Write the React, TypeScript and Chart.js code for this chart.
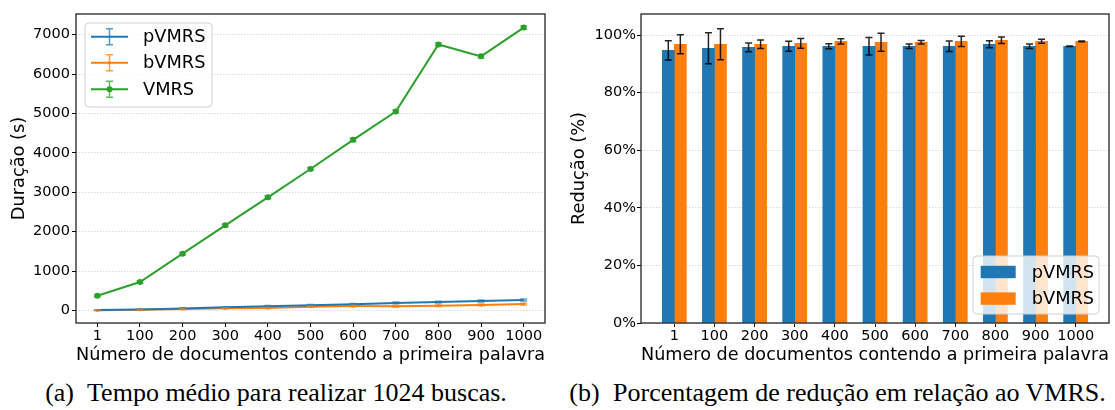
import React, { useEffect, useRef } from "react";
import { Chart, registerables } from "chart.js";

Chart.register(...registerables);

// ---------- data ----------
const categories = ["1", "100", "200", "300", "400", "500", "600", "700", "800", "900", "1000"];

const pvmrsDuration = [8, 25, 50, 78, 105, 130, 158, 190, 210, 240, 265];
const bvmrsDuration = [5, 15, 35, 55, 60, 95, 110, 105, 120, 140, 160];
const vmrsDuration = [370, 720, 1440, 2160, 2870, 3590, 4330, 5050, 6750, 6450, 7180];
const pvmrsDurationErr = [10, 12, 15, 15, 18, 20, 20, 22, 22, 25, 25];
const bvmrsDurationErr = [8, 10, 12, 12, 15, 15, 18, 18, 20, 20, 22];
const vmrsDurationErr = [25, 30, 30, 35, 35, 35, 40, 40, 40, 40, 40];
const durationTicks = [0, 1000, 2000, 3000, 4000, 5000, 6000, 7000];

const pvmrsReduction = [94.7, 95.4, 95.7, 96.1, 96.1, 96.1, 96.1, 96.1, 96.8, 96.1, 96.1];
const bvmrsReduction = [96.8, 96.8, 96.8, 97.1, 97.8, 97.5, 97.5, 97.8, 98.2, 97.8, 97.8];
const pvmrsReductionErr = [3.35, 5.4, 1.5, 1.7, 0.9, 3.0, 0.8, 1.85, 1.2, 0.8, 0.1];
const bvmrsReductionErr = [3.3, 5.4, 1.5, 1.7, 0.9, 3.1, 0.6, 1.8, 1.15, 0.7, 0.1];
const reductionTicks = [0, 20, 40, 60, 80, 100];

const seriesNames = ["pVMRS", "bVMRS", "VMRS"];

// ---------- style ----------
const FONT = "'DejaVu Sans', sans-serif";
const BLUE = "#1f77b4";
const ORANGE = "#ff7f0e";
const GREEN = "#2ca02c";
const TICK_SIZE = 14.5;
const LABEL_SIZE = 17.8;

const PLOT_TOP = 14;
const PLOT_BOTTOM = 323;
const CANVAS_H = 370;

function errorBarPlugin(errs: (number[] | null)[], colors: string[], capHalf: number, lw: number) {
  return {
    id: "errbars",
    afterDatasetsDraw(chart: any) {
      const ctx = chart.ctx;
      const ys = chart.scales.y;
      chart.data.datasets.forEach((ds: any, di: number) => {
        const e = errs[di];
        if (!e) return;
        const meta = chart.getDatasetMeta(di);
        ctx.save();
        ctx.strokeStyle = colors[di];
        ctx.lineWidth = lw;
        meta.data.forEach((el: any, i: number) => {
          const raw = ds.data[i];
          const val = typeof raw === "number" ? raw : raw.y;
          const x = el.x;
          const y1 = ys.getPixelForValue(val + e[i]);
          const y2 = ys.getPixelForValue(val - e[i]);
          ctx.beginPath();
          ctx.moveTo(x, y1);
          ctx.lineTo(x, y2);
          ctx.moveTo(x - capHalf, y1);
          ctx.lineTo(x + capHalf, y1);
          ctx.moveTo(x - capHalf, y2);
          ctx.lineTo(x + capHalf, y2);
          ctx.stroke();
        });
        ctx.restore();
      });
    },
  };
}

function roundBox(ctx: any, x: number, y: number, w: number, h: number, r: number) {
  ctx.beginPath();
  if (ctx.roundRect) ctx.roundRect(x, y, w, h, r);
  else ctx.rect(x, y, w, h);
}

const framePlugin = {
  id: "frame",
  afterDraw(chart: any) {
    const { ctx, chartArea: ca } = chart;
    ctx.save();
    ctx.strokeStyle = "#222";
    ctx.lineWidth = 1.3;
    ctx.strokeRect(ca.left, ca.top, ca.right - ca.left, ca.bottom - ca.top);
    ctx.restore();
  },
};

const lineLegendPlugin = {
  id: "lineLegend",
  afterDraw(chart: any) {
    const { ctx, chartArea: ca } = chart;
    const bx = ca.left + 9;
    const by = ca.top + 9;
    const bw = 127;
    const bh = 84;
    ctx.save();
    roundBox(ctx, bx, by, bw, bh, 4);
    ctx.fillStyle = "rgba(255,255,255,0.8)";
    ctx.fill();
    ctx.strokeStyle = "#d0d0d0";
    ctx.lineWidth = 1;
    ctx.stroke();
    const colors = [BLUE, ORANGE, GREEN];
    const rows = [13.7, 39.8, 66.3];
    rows.forEach((dy, i) => {
      const y = by + dy;
      ctx.strokeStyle = colors[i];
      ctx.lineWidth = 2;
      ctx.beginPath();
      ctx.moveTo(bx + 6, y);
      ctx.lineTo(bx + 43, y);
      ctx.stroke();
      ctx.globalAlpha = 0.75;
      ctx.lineWidth = 1.5;
      ctx.beginPath();
      ctx.moveTo(bx + 24.5, y - 8);
      ctx.lineTo(bx + 24.5, y + 8);
      ctx.moveTo(bx + 21, y - 8);
      ctx.lineTo(bx + 28, y - 8);
      ctx.moveTo(bx + 21, y + 8);
      ctx.lineTo(bx + 28, y + 8);
      ctx.stroke();
      ctx.globalAlpha = 1;
      if (i > 0) {
        ctx.fillStyle = colors[i];
        ctx.beginPath();
        ctx.arc(bx + 24.5, y, i === 2 ? 3 : 1.5, 0, Math.PI * 2);
        ctx.fill();
      }
      ctx.fillStyle = "#000";
      ctx.font = `${LABEL_SIZE}px ${FONT}`;
      ctx.textBaseline = "middle";
      ctx.textAlign = "left";
      ctx.fillText(seriesNames[i], bx + 58, y + 1);
    });
    ctx.restore();
  },
};

const barLegendPlugin = {
  id: "barLegend",
  afterDraw(chart: any) {
    const { ctx, chartArea: ca } = chart;
    const bw = 126;
    const bh = 58;
    const bx = ca.right - 10 - bw;
    const by = ca.bottom - 9 - bh;
    ctx.save();
    roundBox(ctx, bx, by, bw, bh, 4);
    ctx.fillStyle = "rgba(255,255,255,0.8)";
    ctx.fill();
    ctx.strokeStyle = "#d0d0d0";
    ctx.lineWidth = 1;
    ctx.stroke();
    const colors = [BLUE, ORANGE];
    const rows = [16, 42.6];
    rows.forEach((dy, i) => {
      const y = by + dy;
      ctx.fillStyle = colors[i];
      ctx.fillRect(bx + 7.7, y - 6.2, 35, 12.4);
      ctx.fillStyle = "#000";
      ctx.font = `${LABEL_SIZE}px ${FONT}`;
      ctx.textBaseline = "middle";
      ctx.textAlign = "left";
      ctx.fillText(seriesNames[i], bx + 58.7, y + 1);
    });
    ctx.restore();
  },
};

function axisTitle(text: string, horizontal: boolean) {
  return {
    display: true,
    text,
    color: "#000",
    font: { family: FONT, size: LABEL_SIZE },
    padding: horizontal ? { top: 0, bottom: 4 } : { top: 9, bottom: 0 },
  };
}

const tickFont = { family: FONT, size: TICK_SIZE };

function LineChart() {
  const ref = useRef<HTMLCanvasElement | null>(null);
  useEffect(() => {
    if (!ref.current) return;
    const W = 560;
    const chart = new Chart(ref.current, {
      type: "line",
      data: {
        labels: categories,
        datasets: [
          { label: seriesNames[0], data: pvmrsDuration, borderColor: BLUE, backgroundColor: BLUE, borderWidth: 2, pointRadius: 0, tension: 0 },
          { label: seriesNames[1], data: bvmrsDuration, borderColor: ORANGE, backgroundColor: ORANGE, borderWidth: 2, pointRadius: 1.5, pointBorderWidth: 0, tension: 0 },
          { label: seriesNames[2], data: vmrsDuration, borderColor: GREEN, backgroundColor: GREEN, borderWidth: 2, pointRadius: 3, pointBorderWidth: 0, tension: 0 },
        ],
      },
      options: {
        responsive: false,
        animation: false,
        devicePixelRatio: 1,
        layout: { padding: { left: 0, top: PLOT_TOP, right: W - 545, bottom: 0 } },
        plugins: { legend: { display: false }, tooltip: { enabled: false } },
        scales: {
          x: {
            type: "category",
            offset: true,
            grid: { display: true, drawOnChartArea: false, drawTicks: true, tickLength: 4, tickColor: "#000", tickWidth: 1, offset: false },
            border: { display: false },
            ticks: { color: "#000", font: tickFont, padding: 1, maxRotation: 0, autoSkip: false },
            title: axisTitle("Número de documentos contendo a primeira palavra", true),
            afterFit: (s: any) => { s.height = CANVAS_H - PLOT_BOTTOM; },
          },
          y: {
            type: "linear",
            min: -320,
            max: 7525,
            afterBuildTicks: (s: any) => { s.ticks = durationTicks.map((v) => ({ value: v })); },
            ticks: { color: "#000", font: tickFont, padding: 2, callback: (v: any) => String(v) },
            grid: { color: "#dadada", lineWidth: 1, drawTicks: true, tickLength: 4, tickColor: "#000", tickWidth: 1, tickBorderDash: [] },
            border: { display: false, dash: [1.5, 1.5] },
            title: axisTitle("Duração (s)", false),
            afterFit: (s: any) => { s.width = 76; },
          },
        },
      } as any,
      plugins: [
        errorBarPlugin([pvmrsDurationErr, bvmrsDurationErr, vmrsDurationErr], ["rgba(31,119,180,0.7)", "rgba(255,127,14,0.7)", "rgba(44,160,44,0.7)"], 3.5, 1.5),
        framePlugin,
        lineLegendPlugin,
      ],
    });
    return () => chart.destroy();
  }, []);
  return <canvas ref={ref} width={560} height={CANVAS_H} style={{ position: "absolute", left: 0, top: 0, width: 560, height: CANVAS_H }} />;
}

function BarChart() {
  const ref = useRef<HTMLCanvasElement | null>(null);
  useEffect(() => {
    if (!ref.current) return;
    const W = 555;
    const left = 81;
    const right = 549;
    const xMin = -0.83;
    const xMax = 10.83;
    const barPx = 0.3 * ((right - left) / (xMax - xMin));
    const chart = new Chart(ref.current, {
      type: "bar",
      data: {
        datasets: [
          { label: seriesNames[0], data: pvmrsReduction.map((v, i) => ({ x: i - 0.15, y: v })), backgroundColor: BLUE, barThickness: barPx, grouped: false, borderWidth: 0 },
          { label: seriesNames[1], data: bvmrsReduction.map((v, i) => ({ x: i + 0.15, y: v })), backgroundColor: ORANGE, barThickness: barPx, grouped: false, borderWidth: 0 },
        ],
      },
      options: {
        responsive: false,
        animation: false,
        devicePixelRatio: 1,
        layout: { padding: { left: 0, top: PLOT_TOP, right: W - right, bottom: 0 } },
        plugins: { legend: { display: false }, tooltip: { enabled: false } },
        scales: {
          x: {
            type: "linear",
            min: xMin,
            max: xMax,
            offset: false,
            afterBuildTicks: (s: any) => { s.ticks = categories.map((_, i) => ({ value: i })); },
            grid: { display: true, drawOnChartArea: false, drawTicks: true, tickLength: 4, tickColor: "#000", tickWidth: 1, offset: false },
            border: { display: false },
            ticks: { color: "#000", font: tickFont, padding: 1, maxRotation: 0, autoSkip: false, callback: (v: any) => categories[Math.round(v)] },
            title: axisTitle("Número de documentos contendo a primeira palavra", true),
            afterFit: (s: any) => { s.height = CANVAS_H - PLOT_BOTTOM; },
          },
          y: {
            type: "linear",
            min: 0,
            max: 107.3,
            afterBuildTicks: (s: any) => { s.ticks = reductionTicks.map((v) => ({ value: v })); },
            ticks: { color: "#000", font: tickFont, padding: 1, callback: (v: any) => `${v}%` },
            grid: { color: "#dadada", lineWidth: 1, drawTicks: true, tickLength: 4, tickColor: "#000", tickWidth: 1, tickBorderDash: [] },
            border: { display: false, dash: [1.5, 1.5] },
            title: axisTitle("Redução (%)", false),
            afterFit: (s: any) => { s.width = left; },
          },
        },
      } as any,
      plugins: [
        errorBarPlugin([pvmrsReductionErr, bvmrsReductionErr], ["rgba(0,0,0,0.85)", "rgba(0,0,0,0.85)"], 3.5, 1.5),
        framePlugin,
        barLegendPlugin,
      ],
    });
    return () => chart.destroy();
  }, []);
  return <canvas ref={ref} width={555} height={CANVAS_H} style={{ position: "absolute", left: 560, top: 0, width: 555, height: CANVAS_H }} />;
}

const captionStyle: React.CSSProperties = {
  position: "absolute",
  top: 378,
  height: 30,
  lineHeight: "30px",
  fontFamily: "'Liberation Serif', 'Times New Roman', serif",
  fontSize: 26,
  color: "#000",
  textAlign: "center",
  whiteSpace: "nowrap",
};

export default function App() {
  return (
    <div style={{ position: "absolute", left: 0, top: 0, width: 1115, height: 410, background: "#fff", overflow: "hidden" }}>
      <LineChart />
      <BarChart />
      <div style={{ ...captionStyle, left: 0, width: 552 }}>
        <span style={{ marginRight: 7 }}>(a)</span> Tempo médio para realizar 1024 buscas.
      </div>
      <div style={{ ...captionStyle, left: 560, width: 555 }}>
        <span style={{ marginRight: 7 }}>(b)</span> Porcentagem de redução em relação ao VMRS.
      </div>
    </div>
  );
}
